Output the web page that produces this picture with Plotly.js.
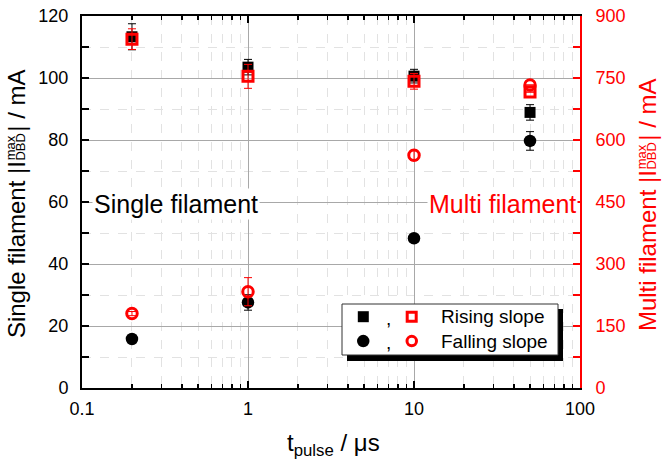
<!DOCTYPE html>
<html>
<head>
<meta charset="utf-8">
<script src="https://cdn.plot.ly/plotly-3.0.1.min.js"></script>
<style>
  html, body { margin: 0; padding: 0; background: #fff; }
  #chart { width: 662px; height: 461px; }
</style>
</head>
<body>
<div id="chart"></div>
<script>
// Pulse durations (µs)
const tPulse = [0.2, 1, 10, 50];

// Single filament peak current (mA), left axis
const singleRising = [113.3, 103.5, 100.6, 88.9];
const singleRisingErr = [4.2, 2.5, 2.2, 2.5];
const singleFalling = [15.8, 27.6, 48.3, 79.7];
const singleFallingErr = [0, 2.5, 0, 3];

// Multi filament peak current (mA), right axis
const multiRising = [844, 754, 742, 716];
const multiRisingErr = [25, 29, 19, 0];
const multiFalling = [180, 233, 563, 733];
const multiFallingErr = [5, 34, 12, 0];

// Axis tick settings
const leftTicks = [0, 20, 40, 60, 80, 100, 120];
const rightTicks = [0, 150, 300, 450, 600, 750, 900];

const RED = '#ff0000';
const FONT_NAME = 'Liberation Sans';
const FONT = 'Liberation Sans, Arial, Helvetica, sans-serif';

// plot area in pixels
const L = 82, R = 580, T = 16, B = 388;
const px = v => (v - L) / (R - L);
const py = v => (B - v) / (B - T);

// text width helper for laying out the stacked axis-title pieces
const measureCtx = document.createElement('canvas').getContext('2d');
function textWidth(str, size) {
  measureCtx.font = size + 'px "' + FONT_NAME + '"';
  return measureCtx.measureText(str).width;
}

function errBars(arr, color) {
  return { type: 'data', array: arr, visible: true, color: color, thickness: 1, width: 4 };
}

const traces = [
  {
    x: tPulse, y: singleRising, type: 'scatter', mode: 'markers', yaxis: 'y',
    marker: { symbol: 'square', size: 11, color: '#000' },
    error_y: errBars(singleRisingErr, '#000'), showlegend: false, cliponaxis: false
  },
  {
    x: tPulse, y: singleFalling, type: 'scatter', mode: 'markers', yaxis: 'y',
    marker: { symbol: 'circle', size: 12.5, color: '#000' },
    error_y: errBars(singleFallingErr, '#000'), showlegend: false, cliponaxis: false
  },
  {
    x: tPulse, y: multiRising, type: 'scatter', mode: 'markers', yaxis: 'y2',
    marker: { symbol: 'square-open', size: 10, color: RED, line: { width: 3, color: RED } },
    error_y: errBars(multiRisingErr, RED), showlegend: false, cliponaxis: false
  },
  {
    x: tPulse, y: multiFalling, type: 'scatter', mode: 'markers', yaxis: 'y2',
    marker: { symbol: 'circle-open', size: 10.5, color: RED, line: { width: 3, color: RED } },
    error_y: errBars(multiFallingErr, RED), showlegend: false, cliponaxis: false
  }
];

function rotated(text, x, y, size, color) {
  return {
    text: text, xref: 'paper', yref: 'paper', x: px(x), y: py(y),
    xanchor: 'center', yanchor: 'bottom', textangle: -90, showarrow: false, borderpad: 0,
    font: { family: FONT, size: size, color: color }
  };
}

// vertical title "<head>|I^max_DBD| / mA", centred at yc, main column centred at xc
function verticalTitle(head, xc, yc, color) {
  const big = 24, small = 13;
  const wA = textWidth(head + ' |I', big);
  const wS = Math.max(textWidth('DBD', small), textWidth('max', small)) + 1.5;
  const wC = textWidth('| / mA', big);
  const start = yc + (wA + wS + wC) / 2;
  return [
    rotated(head + ' |I', xc, start, big, color),
    rotated('max', xc - 6.3, start - wA - 0.5, small, color),
    rotated('DBD', xc + 4, start - wA - 0.5, small, color),
    rotated('| / mA', xc, start - wA - wS, big, color)
  ];
}

const annotations = [
  // in-plot labels
  {
    text: 'Single filament', xref: 'paper', yref: 'paper', x: px(92), y: py(204),
    xanchor: 'left', yanchor: 'middle', showarrow: false, bgcolor: '#fff', borderpad: 1,
    font: { family: FONT, size: 25, color: '#000' }
  },
  {
    text: 'Multi filament', xref: 'paper', yref: 'paper', x: px(578), y: py(204),
    xanchor: 'right', yanchor: 'middle', showarrow: false, bgcolor: '#fff', borderpad: 1,
    font: { family: FONT, size: 25, color: RED }
  },
  ...verticalTitle('Single filament', 16.5, 205, '#000'),
  ...verticalTitle('Multi filament', 647.5, 206, RED),
  // x axis title
  {
    text: 't<sub>pulse</sub> / μs', xref: 'paper', yref: 'paper', x: px(333), y: py(444),
    xanchor: 'center', yanchor: 'middle', showarrow: false,
    font: { family: FONT, size: 24, color: '#000' }
  },
  // legend text
  {
    text: ',', xref: 'paper', yref: 'paper', x: px(388), y: py(318), xanchor: 'center', yanchor: 'middle',
    showarrow: false, font: { family: FONT, size: 19, color: '#000' }
  },
  {
    text: ',', xref: 'paper', yref: 'paper', x: px(388), y: py(342), xanchor: 'center', yanchor: 'middle',
    showarrow: false, font: { family: FONT, size: 19, color: '#000' }
  },
  {
    text: 'Rising slope', xref: 'paper', yref: 'paper', x: px(439), y: py(316.5), xanchor: 'left', yanchor: 'middle',
    showarrow: false, font: { family: FONT, size: 19, color: '#000' }
  },
  {
    text: 'Falling slope', xref: 'paper', yref: 'paper', x: px(439), y: py(341), xanchor: 'left', yanchor: 'middle',
    showarrow: false, font: { family: FONT, size: 19, color: '#000' }
  }
];

function box(x0, y0, x1, y1, extra) {
  return Object.assign({
    type: 'rect', xref: 'paper', yref: 'paper', layer: 'above',
    x0: px(x0), x1: px(x1), y0: py(y0), y1: py(y1)
  }, extra);
}

const shapes = [
  // legend shadow and frame
  box(347, 309, 563, 361, { fillcolor: '#000', line: { width: 0 } }),
  box(342, 304, 558, 355, { fillcolor: '#fff', line: { color: '#333', width: 1 } }),
  // legend symbols
  box(357.8, 311.2, 368.8, 322.2, { fillcolor: '#000', line: { width: 0 } }),
  box(407.2, 312.2, 416.2, 321.2, { fillcolor: 'rgba(0,0,0,0)', line: { color: RED, width: 3 } }),
  { type: 'circle', xref: 'paper', yref: 'paper', layer: 'above',
    x0: px(357), x1: px(369.5), y0: py(334.8), y1: py(347.3), fillcolor: '#000', line: { width: 0 } },
  { type: 'circle', xref: 'paper', yref: 'paper', layer: 'above',
    x0: px(407), x1: px(416.5), y0: py(336.3), y1: py(345.8), fillcolor: 'rgba(0,0,0,0)', line: { color: RED, width: 3 } }
];

const layout = {
  width: 662, height: 461,
  margin: { l: L, r: 662 - R, t: T, b: 461 - B, pad: 0 },
  paper_bgcolor: '#fff', plot_bgcolor: '#fff',
  font: { family: FONT, size: 18, color: '#000' },
  showlegend: false,
  xaxis: {
    type: 'log', range: [-1, 2], dtick: 1,
    tickfont: { family: FONT, size: 18, color: '#000' },
    ticks: 'inside', ticklen: 7, tickwidth: 1.5, tickcolor: '#000',
    showline: true, linecolor: '#000', linewidth: 2, mirror: 'ticks',
    showgrid: true, gridcolor: '#a8a8a8', gridwidth: 1,
    minor: { dtick: 'D1', ticks: 'inside', ticklen: 4, tickwidth: 1.2, tickcolor: '#000',
             showgrid: true, gridcolor: '#e2e2e2', griddash: 'dash', gridwidth: 1 },
    zeroline: false, automargin: false, ticklabelstandoff: 3
  },
  yaxis: {
    range: [0, 120], tickvals: leftTicks,
    tickfont: { family: FONT, size: 18, color: '#000' },
    ticks: 'inside', ticklen: 7, tickwidth: 1.5, tickcolor: '#000',
    showline: true, linecolor: '#000', linewidth: 2,
    showgrid: true, gridcolor: '#a8a8a8', gridwidth: 1,
    minor: { dtick: 10, ticks: 'inside', ticklen: 7, tickwidth: 1.5, tickcolor: '#000',
             showgrid: true, gridcolor: '#e2e2e2', griddash: 'dash', gridwidth: 1 },
    zeroline: false, automargin: false, ticklabelstandoff: 8
  },
  yaxis2: {
    overlaying: 'y', side: 'right', range: [0, 900], tickvals: rightTicks,
    tickfont: { family: FONT, size: 18, color: RED },
    ticks: 'inside', ticklen: 7, tickwidth: 1.5, tickcolor: RED,
    showline: true, linecolor: RED, linewidth: 2,
    showgrid: false,
    minor: { dtick: 75, ticks: 'inside', ticklen: 7, tickwidth: 1.5, tickcolor: RED, showgrid: false },
    zeroline: false, automargin: false, ticklabelstandoff: 10
  },
  annotations: annotations,
  shapes: shapes
};

Plotly.newPlot('chart', traces, layout, { staticPlot: true, displayModeBar: false });
</script>
</body>
</html>
